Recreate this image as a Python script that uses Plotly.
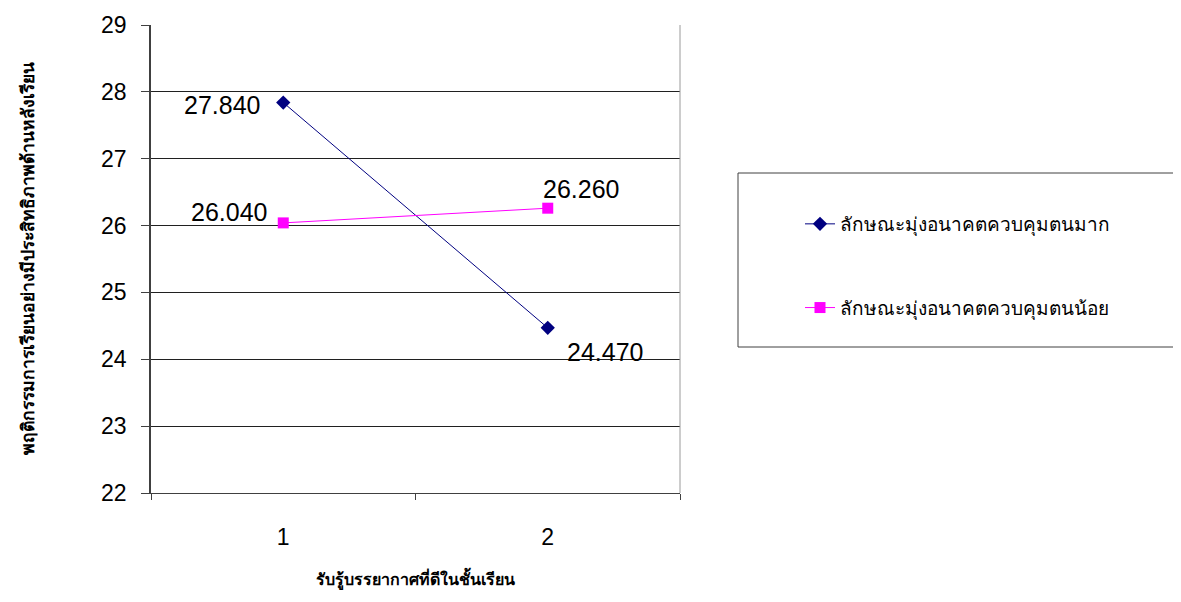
import plotly.graph_objects as go

categories = ["1", "2"]
series_names = ["ลักษณะมุ่งอนาคตควบคุมตนมาก", "ลักษณะมุ่งอนาคตควบคุมตนน้อย"]
high_values = [27.84, 24.47]
low_values = [26.04, 26.26]
y_ticks = [22, 23, 24, 25, 26, 27, 28, 29]
x_title = "รับรู้บรรยากาศที่ดีในชั้นเรียน"
y_title = "พฤติกรรมการเรียนอย่างมีประสิทธิภาพด้านหลังเรียน"

# page body has an 8px default margin
OFF = 8
W, H = 1181 - OFF, 602 - OFF
L, T = 151 - OFF, 25 - OFF
pw, ph = 529, 468
R, B = W - L - pw, H - T - ph

def px_x(p):
    return (p - OFF - L) / pw

def px_y(p):
    return (T + ph - (p - OFF)) / ph

fig = go.Figure()
fig.add_trace(go.Scatter(
    x=categories, y=high_values, mode="lines+markers", name=series_names[0],
    line=dict(color="#000080", width=1),
    marker=dict(symbol="diamond", size=11, color="#000080"),
    legendgroup="a",
))
fig.add_trace(go.Scatter(
    x=categories, y=low_values, mode="lines+markers", name=series_names[1],
    line=dict(color="#FF00FF", width=1),
    marker=dict(symbol="square", size=11, color="#FF00FF"),
    legendgroup="b",
))

label_font = dict(family="Arial, Liberation Sans, sans-serif", size=25, color="#000000")
shifts_high = [(-61, -2), (57, -24)]
shifts_low = [(-54, 11), (33, 19)]
for vals, shifts in ((high_values, shifts_high), (low_values, shifts_low)):
    for i, (v, (dx, dy)) in enumerate(zip(vals, shifts)):
        fig.add_annotation(x=i, y=v, xref="x", yref="y", text=f"{v:.3f}",
                           showarrow=False, xshift=dx, yshift=dy, font=label_font)

# legend box
fig.add_shape(type="rect", xref="paper", yref="paper",
              x0=px_x(738), x1=px_x(1180), y0=px_y(347), y1=px_y(173),
              line=dict(color="#404040", width=1), fillcolor="rgba(0,0,0,0)")
# right border of plot area
fig.add_shape(type="line", xref="paper", yref="paper", x0=1, x1=1, y0=0, y1=1,
              line=dict(color="#9a9a9a", width=1))

fig.update_layout(
    width=W, height=H,
    margin=dict(l=L, r=R, t=T, b=B, autoexpand=False),
    paper_bgcolor="white", plot_bgcolor="white",
    font=dict(family="Tahoma, DejaVu Sans, sans-serif", color="#000000"),
    showlegend=True,
    legend=dict(x=px_x(800), y=px_y(205), xanchor="left", yanchor="top",
                bgcolor="rgba(0,0,0,0)", borderwidth=0, tracegroupgap=56,
                font=dict(size=19, color="#000000")),
    xaxis=dict(
        type="category", range=[-0.5, 1.5], tickson="boundaries",
        ticks="outside", ticklen=6, tickcolor="#404040",
        showline=True, linecolor="#404040", linewidth=1,
        showgrid=False, zeroline=False,
        tickfont=dict(family="Arial, Liberation Sans, sans-serif", size=23),
        ticklabelstandoff=23,
        title=dict(text=x_title, font=dict(size=16, weight="bold"), standoff=25),
    ),
    yaxis=dict(
        range=[22, 29], tickvals=y_ticks, ticks="outside", ticklen=8,
        tickcolor="#404040",
        showline=True, linecolor="#404040", linewidth=1.5,
        showgrid=True, gridcolor="#202020", gridwidth=1, zeroline=False,
        tickfont=dict(family="Arial, Liberation Sans, sans-serif", size=23),
        ticklabelstandoff=10,
        title=dict(text=y_title, font=dict(size=17.5, weight="bold"), standoff=62),
    ),
)

fig.write_html("out.html")
